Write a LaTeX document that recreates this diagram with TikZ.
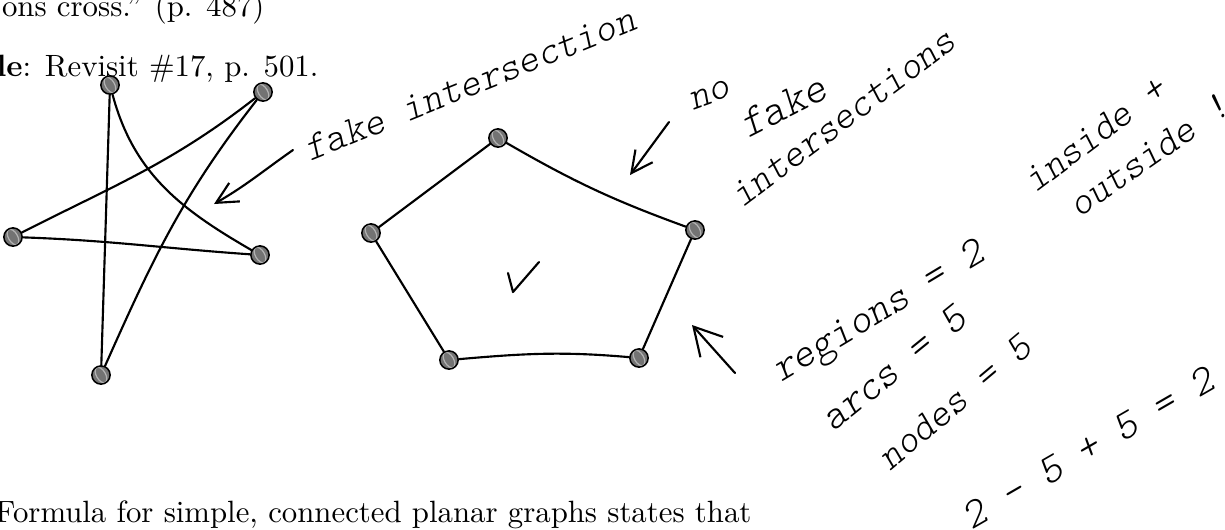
\documentclass[tikz,border=0pt]{standalone}
\usetikzlibrary{arrows.meta}
\newcommand\handfont{\ttfamily\fontseries{l}\slshape\fontsize{13}{15}\selectfont}
\begin{document}
\begin{tikzpicture}[
    x=0.328pt, y=-0.328pt,
    pen/.style={line width=0.7pt, line cap=round, line join=round},
    edge/.style={pen},
    vtx/.style={circle, draw, line width=0.5pt, minimum size=6pt,
        inner sep=0pt, fill=black!55,
        path picture={\draw[line width=0.4pt, white!70!black]
            (path picture bounding box.center)
            ellipse [x radius=1.5pt, y radius=2.8pt, rotate=30];}},
    hw/.style={font=\handfont, inner sep=0pt},
    hwarr/.style={pen, -{Straight Barb[length=7pt, width=7pt]}},
    book/.style={font=\fontsize{10.1}{12.5}\selectfont, inner sep=0pt},
]
\useasboundingbox (0,0) rectangle (1225,529);

% --- printed page text ---
\node[book, anchor=base east] (ptop) at (265,16) {ons cross.'' (p. 487)};
\node[book, anchor=base east] (pex) at (319,76) {\textbf{le}: Revisit \#17, p. 501.};
\node[book, anchor=base east] (pbot) at (752,522)
    {Formula for simple, connected planar graphs states that};

% --- star graph (with crossings) ---
\foreach \n/\x/\y in {s1/110/85, s2/263/92, s3/13/237, s4/260/255, s5/101/375}
    \node[vtx] (\n) at (\x,\y) {};
\draw[edge] (s1) -- (s5);
\draw[edge] (s1) to[out=-75, in=150] (s4);
\draw[edge] (s2) to[out=218, in=27] (s3);
\draw[edge] (s2) to[out=232, in=66] (s5);
\draw[edge] (s3) to[out=-2, in=176] (s4);

% --- pentagon (planar drawing) ---
\foreach \n/\x/\y in {p1/498/138, p2/371/233, p3/695/230, p4/449/360, p5/639/358}
    \node[vtx] (\n) at (\x,\y) {};
\draw[edge] (p1) -- (p2);
\draw[edge] (p1) to[out=-30, in=160] (p3);
\draw[edge] (p3) -- (p5);
\draw[edge] (p5) to[out=175, in=5] (p4);
\draw[edge] (p4) -- (p2);
% check mark
\draw[pen] (508,273) -- (513,292) -- (539,262);

% --- arrows ---
\coordinate (fakeA) at (293,150);
\coordinate (fakeB) at (214,204);
\draw[hwarr] (fakeA) to[out=215, in=30] (fakeB);
\coordinate (noA) at (669,122);
\coordinate (noB) at (630,175);
\draw[hwarr] (noA) -- (noB);
\coordinate (inA) at (735,373);
\coordinate (inB) at (692,325);
\draw[pen, -{Straight Barb[length=9pt, width=10pt]}] (inA) -- (inB);

% --- handwritten notes ---
\node[hw, rotate=22] (fakelbl) at (470,84) {fake intersection};
\node[hw, rotate=20] (nolbl) at (710,95) {no};
\node[hw, rotate=27, scale=1.1] (fake2lbl) at (783,106) {fake};
\node[hw, rotate=37] (interlbl) at (843,118) {intersections};
\node[hw, rotate=37] (insidelbl) at (1095,134) {inside +};
\node[hw, rotate=35] (outsidelbl) at (1149,155) {outside !};
\node[hw, rotate=31, scale=1.05] (regionslbl) at (880,314) {regions = 2};
\node[hw, rotate=39, scale=1.05] (arcslbl) at (894,368) {arcs = 5};
\node[hw, rotate=40] (nodeslbl) at (955,402) {nodes = 5};
\node[hw, rotate=30, scale=1.05] (eulerlbl) at (1088,448) {2 - 5 + 5 = 2};
\end{tikzpicture}
\end{document}
